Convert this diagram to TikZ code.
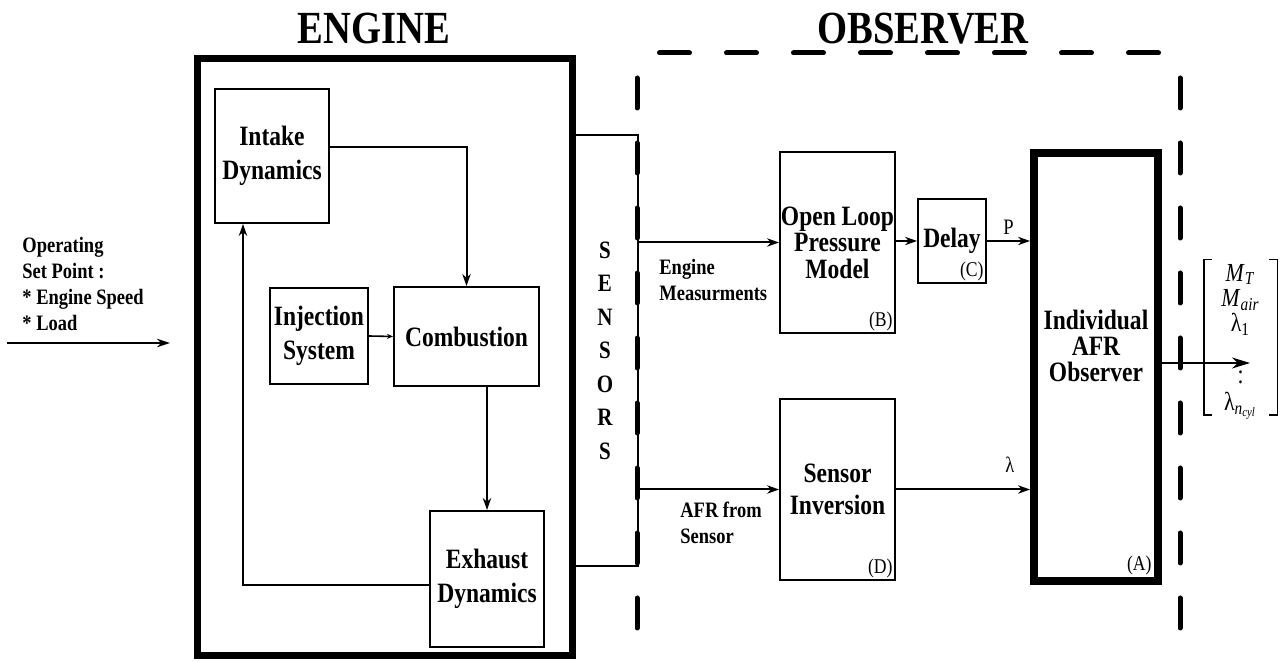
\documentclass[tikz,border=0pt]{standalone}
\usepackage{fontspec}
\setmainfont{Liberation Serif}[FakeStretch=0.84]
\usetikzlibrary{arrows.meta,positioning}

\newcommand{\dotcolumn}{\vbox{\baselineskip=5pt\lineskiplimit=0pt\hbox{.}\hbox{.}\hbox{.}}}

\begin{document}
\begin{tikzpicture}[x=0.5pt,y=-0.5pt,
  blk/.style={draw,line width=1pt,inner sep=0pt,align=center,
              font=\fontsize{14}{17}\selectfont\bfseries},
  heavy/.style={blk,line width=3.5pt},
  flow/.style={line width=1pt,-{Stealth[length=6pt,width=4.2pt]}},
  tag/.style={anchor=south east,inner sep=1.5pt,font=\fontsize{10.5}{12}\selectfont},
  note/.style={align=left,inner sep=0pt,font=\fontsize{11}{13}\selectfont\bfseries},
  sig/.style={inner sep=0pt,font=\fontsize{11}{12}\selectfont},
  heading/.style={inner sep=0pt,font=\fontsize{23}{26}\selectfont\bfseries},
  obsline/.style={line width=2.5pt,line cap=round,dash pattern=on 15pt off 17.5pt}]
\useasboundingbox (0,0) rectangle (1282,662);

% titles
\node[heading] (engtitle) at (374,29) {ENGINE};
\node[heading] (obstitle) at (923,29) {OBSERVER};

% engine part
\node[heavy,minimum width=187.5pt,minimum height=298.5pt] (engine) at (384.5,357.5) {};
\node[blk,minimum width=57pt,minimum height=67pt] (intake) at (272,156) {Intake\\Dynamics};
\node[blk,minimum width=49pt,minimum height=48pt] (inject) at (319,336) {Injection\\System};
\node[blk,minimum width=72.5pt,minimum height=49.5pt] (comb) at (466.5,336.5) {Combustion};
\node[blk,minimum width=57pt,minimum height=68pt] (exhaust) at (487,579) {Exhaust\\Dynamics};
\node[blk,minimum width=33pt,minimum height=215.5pt,
      font=\fontsize{12.5}{16.75}\selectfont\bfseries] (sensors) at (605,350.5) {S\\E\\N\\S\\O\\R\\S};

\draw[flow] ([yshift=4.5pt]intake.east) -| (comb.north);
\draw[line width=0.8pt,-{Stealth[length=3pt,width=2.5pt]}] (inject.east) -- (comb.west);
\draw[flow] (exhaust.north |- comb.south) -- (exhaust.north);
\draw[flow] ([yshift=-3pt]exhaust.west) -| ([xshift=-14.5pt]intake.south);

% operating point input
\node[note,anchor=west] (oplabel) at (22,284) {Operating\\Set Point :\\* Engine Speed\\* Load};
\coordinate (opstart) at (7,343);
\coordinate (opend) at (170,343);
\draw[line width=1pt,-{Stealth[length=6.5pt,width=4.2pt]}] (opstart) -- (opend);

% observer frame
\draw[obsline] (637,78) -- (637,662);
\draw[obsline,dash pattern=on 15pt off 18.5pt] (659.5,53) -- (1161,53);
\draw[obsline] (1180,78) -- (1180,662);

% observer part
\node[blk,minimum width=57.5pt,minimum height=90.5pt,
      font=\fontsize{14}{13.3}\selectfont\bfseries] (olpm) at (837.5,242.5) {Open Loop\\Pressure\\Model};
\node[blk,minimum width=34pt,minimum height=42pt] (delay) at (952,241) {Delay};
\node[blk,minimum width=57.5pt,minimum height=90.5pt,
      font=\fontsize{14}{16}\selectfont\bfseries] (sinv) at (837.5,489.5) {Sensor\\Inversion};
\node[heavy,line width=4pt,minimum width=62pt,minimum height=214pt] (afr) at (1096,367) {};
\node[blk,draw=none,font=\fontsize{14}{13}\selectfont\bfseries] (afrtext) at ([yshift=10.5pt]afr.center) {Individual\\AFR\\Observer};

\node[tag] (tagb) at (olpm.south east) {(B)};
\node[tag] (tagc) at (delay.south east) {(C)};
\node[tag] (tagd) at (sinv.south east) {(D)};
\node[tag] (taga) at ([xshift=-3.5pt,yshift=3.5pt]afr.south east) {(A)};

\draw[flow] (sensors.east |- olpm.west) -- (olpm.west);
\draw[flow] (sensors.east |- sinv.west) -- (sinv.west);
\node[note,anchor=west] (measlabel) at (659,280) {Engine\\Measurments};
\node[note,anchor=west] (afrlabel) at (680,523) {AFR from\\Sensor};

\draw[flow] (olpm.east |- delay.west) -- (delay.west);
\draw[flow] (delay.east) -- (delay.east -| afr.west) node[sig,midway,above=2.5pt] {P};
\draw[flow] (sinv.east) -- (sinv.east -| afr.west) node[sig,pos=0.85,above=8pt] {λ};

% estimated outputs
\node[inner sep=0pt,minimum width=36.5pt,minimum height=77.5pt] (outvec) at (1240.5,337.5) {};
\node[inner sep=0pt,align=center,font=\fontsize{13}{12.5}\selectfont] (outtext)
  at ([yshift=-2.25pt]outvec.center)
  {\textit{M}\textsubscript{\textit{T}}\\
   \textit{M}\textsubscript{\textit{air}}\\
   λ\textsubscript{1}\\[12pt]
   \dotcolumn\\[1pt]
   λ\textsubscript{\textit{n}\textsubscript{\textit{cyl}}}};
\draw[line width=0.9pt] ([xshift=4pt]outvec.north west) -- (outvec.north west)
  -- (outvec.south west) -- ++(8,0);
\draw[line width=0.9pt] ([xshift=-4pt]outvec.north east) -- (outvec.north east)
  -- (outvec.south east) -- ++(-8,0);
\coordinate (outtip) at (1250,363);
\draw[line width=1pt,-{Stealth[length=9pt,width=5.5pt]}] ([yshift=2pt]afr.east) -- (outtip);
\end{tikzpicture}
\end{document}
